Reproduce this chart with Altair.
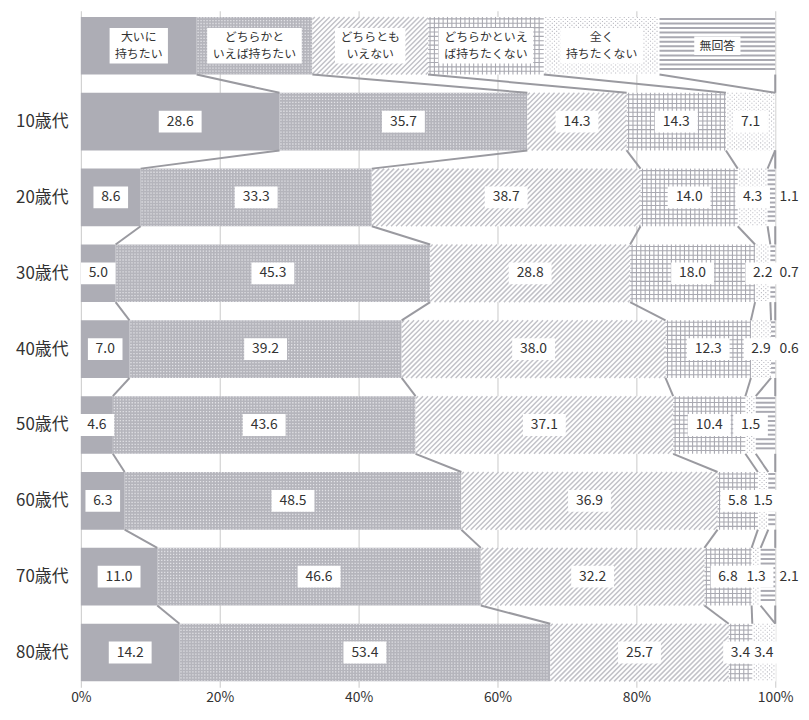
import json
import altair as alt
import pandas as pd

cats = ["大いに持ちたい", "どちらかといえば持ちたい", "どちらともいえない",
        "どちらかといえば持ちたくない", "全く持ちたくない", "無回答"]
header_text = ["大いに\n持ちたい", "どちらかと\nいえば持ちたい", "どちらとも\nいえない",
               "どちらかといえ\nば持ちたくない", "全く\n持ちたくない", "無回答"]
ages = ["10歳代", "20歳代", "30歳代", "40歳代", "50歳代", "60歳代", "70歳代", "80歳代"]

v_very = [28.6, 8.6, 5.0, 7.0, 4.6, 6.3, 11.0, 14.2]
v_rather = [35.7, 33.3, 45.3, 39.2, 43.6, 48.5, 46.6, 53.4]
v_neither = [14.3, 38.7, 28.8, 38.0, 37.1, 36.9, 32.2, 25.7]
v_rather_not = [14.3, 14.0, 18.0, 12.3, 10.4, 5.8, 6.8, 3.4]
v_not = [7.1, 4.3, 2.2, 2.9, 1.5, 1.5, 1.3, 3.4]
v_na = [0.0, 1.1, 0.7, 0.6, 2.8, 1.0, 2.1, 0.0]
na_labelled = [False, True, True, True, False, False, True, False]

# base fills (patterns are drawn on top)
colors = ["#adadb5", "#b5b5bc", "#ffffff", "#ffffff", "#ffffff", "#ffffff"]
LINE = "#a9a9b1"

FONT = "Noto Sans CJK JP"
W, H = 700, 676
YDOM = [-0.46, 8.38]
STEP = H / (YDOM[1] - YDOM[0])   # px per row
PXPCT = W / 100.0                # px per percent
HALF = 0.38                      # half bar thickness (rows)

series = [v_very, v_rather, v_neither, v_rather_not, v_not, v_na]

# segments (row 0 = header with equal parts)
seg_rows, bounds = [], {}
for r in range(9):
    vals = [100 / 6] * 6 if r == 0 else [s[r - 1] for s in series]
    cum = 0.0
    b = [0.0]
    for k, v in enumerate(vals):
        seg_rows.append(dict(cat=cats[k], k=k, r=r, x0=cum, x1=min(cum + v, 100.0),
                             y0=r - HALF, y1=r + HALF))
        cum += v
        b.append(min(cum, 100.0))
    bounds[r] = b
segs = pd.DataFrame(seg_rows)

# texture lines derived from the segments (pixel spacing -> data units)
grid_l, diag_l, hstripe_l, dense_l, sparse_l = [], [], [], [], []
for s in seg_rows:
    X0, X1 = s["x0"] * PXPCT, s["x1"] * PXPCT
    T, B = s["y0"] * STEP, s["y1"] * STEP
    if X1 - X0 < 0.5:
        continue

    def add(lst, xa, xb, ya, yb):
        lst.append(dict(x0=xa / PXPCT, x1=xb / PXPCT, y0=ya / STEP, y1=yb / STEP))

    k = s["k"]
    if k == 1:   # dense dots: white holes on grey
        x = X0 + 1.5
        while x < X1 - 0.5:
            add(dense_l, x, x, T, B)
            x += 3.0
    elif k == 2:  # diagonal stripes
        sp = 5.0
        c = X0 + T + sp / 2
        while c < X1 + B:
            xa = max(X0, c - B)
            xb = min(X1, c - T)
            if xb > xa:
                add(diag_l, xa, xb, c - xa, c - xb)
            c += sp
    elif k == 3:  # grid
        x = X0 + 2.0
        while x < X1 - 0.5:
            add(grid_l, x, x, T, B)
            x += 4.4
        y = T + 2.0
        while y < B - 0.5:
            add(grid_l, X0, X1, y, y)
            y += 4.4
    elif k == 4:  # sparse dots
        x = X0 + 2.0
        i = 0
        while x < X1 - 0.5:
            add(sparse_l, x, x, T + (2.0 if i % 2 else 0.0), B)
            x += 2.2
            i += 1
    elif k == 5:  # horizontal stripes
        y = T + 2.0
        while y < B - 1:
            add(hstripe_l, X0, X1, y, y)
            y += 4.6

# connector lines
con_rows = []
for r in range(8):
    for k in range(1, 7):
        con_rows.append(dict(x0=bounds[r][k], x1=bounds[r + 1][k],
                             y0=r + HALF, y1=r + 1 - HALF))
cons = pd.DataFrame(con_rows)

# value labels
lab_rows = []
for r in range(1, 9):
    for k in range(6):
        v = series[k][r - 1]
        if v <= 0:
            continue
        if k == 5 and not na_labelled[r - 1]:
            continue
        txt = f"{v:.1f}"
        cx = 102.0 if k == 5 else (bounds[r][k] + bounds[r][k + 1]) / 2
        hw = (len(txt) * 8.3 + 10) / 2 / PXPCT
        lab_rows.append(dict(txt=txt, x0=cx, xa=cx - hw, xb=cx + hw,
                             yc=r, ya=r - 11 / STEP, yb=r + 11 / STEP,
                             outside=(k == 5)))
labs = pd.DataFrame(lab_rows)
boxes = labs[~labs["outside"]]

# header labels (one text per line)
hdr_box_rows, hdr_line_rows = [], []
LH = 17.5
for k, t in enumerate(header_text):
    lines = t.split("\n")
    cx = 100 / 6 * (k + 0.5)
    hw = (max(len(l) for l in lines) * 12.2 + 10) / 2 / PXPCT
    hh = (len(lines) * LH + 1) / 2 / STEP
    hdr_box_rows.append(dict(xa=cx - hw, xb=cx + hw, ya=-hh, yb=hh))
    n = len(lines)
    for i, l in enumerate(lines):
        off = (i - (n - 1) / 2) * LH / STEP
        hdr_line_rows.append(dict(txt=l, x0=cx, yc=off))
hdr_boxes_df = pd.DataFrame(hdr_box_rows)
hdr_lines_df = pd.DataFrame(hdr_line_rows)

yscale = alt.Scale(domain=YDOM, reverse=True, nice=False, zero=False)
xscale = alt.Scale(domain=[0, 100], nice=False, zero=False)
yaxis = alt.Axis(values=list(range(1, 9)),
                 labelExpr=f"{json.dumps(ages, ensure_ascii=False)}[datum.value - 1]",
                 ticks=False, domain=False, grid=False, title=None,
                 labelFontSize=17, labelPadding=13, labelColor="#333333", labelFont=FONT)
xaxis = alt.Axis(values=[0, 20, 40, 60, 80, 100], labelExpr="datum.value + '%'",
                 grid=True, gridColor="#d2d2d2", gridWidth=1.2, domain=False,
                 tickSize=6, tickColor="#d2d2d2", tickWidth=1.2, labelFontSize=14,
                 labelPadding=3, labelColor="#333333", labelFont=FONT, title=None,
                 labelFlush=False)


def X(f):
    return alt.X(f + ":Q", scale=xscale, axis=xaxis)


def Y(f):
    return alt.Y(f + ":Q", scale=yscale, axis=yaxis)


def rules(rows, **kw):
    return alt.Chart(pd.DataFrame(rows)).mark_rule(**kw).encode(
        x=X("x0"), x2="x1", y=Y("y0"), y2="y1")


bars = alt.Chart(segs).mark_rect(stroke=None).encode(
    x=X("x0"), x2="x1", y=Y("y0"), y2="y1",
    color=alt.Color("cat:N", scale=alt.Scale(domain=cats, range=colors), legend=None),
)

tex_dense = rules(dense_l, color="#e2e2e6", strokeWidth=1.3, strokeDash=[1.3, 1.7])
tex_diag = rules(diag_l, color="#c2c2c8", strokeWidth=1.5)
tex_grid = rules(grid_l, color=LINE, strokeWidth=1.1)
tex_sparse = rules(sparse_l, color="#bcbcc3", strokeWidth=1.1, strokeDash=[1.1, 2.9])
tex_h = rules(hstripe_l, color=LINE, strokeWidth=2.0)

lines = alt.Chart(cons).mark_rule(color="#9a9aa0", strokeWidth=2).encode(
    x=X("x0"), x2="x1", y=Y("y0"), y2="y1"
)

label_boxes = alt.Chart(boxes).mark_rect(color="white").encode(
    x=X("xa"), x2="xb", y=Y("ya"), y2="yb"
)
label_text = alt.Chart(labs).mark_text(font=FONT, fontSize=14, color="#333333",
                                       align="center", baseline="middle").encode(
    x=X("x0"), y=Y("yc"), text="txt:N"
)

hdr_boxes = alt.Chart(hdr_boxes_df).mark_rect(color="white").encode(
    x=X("xa"), x2="xb", y=Y("ya"), y2="yb"
)
hdr_text = alt.Chart(hdr_lines_df).mark_text(font=FONT, fontSize=12, color="#333333",
                                             align="center", baseline="middle").encode(
    x=X("x0"), y=Y("yc"), text="txt:N"
)

chart = alt.layer(bars, tex_dense, tex_diag, tex_grid, tex_sparse, tex_h, lines,
                  label_boxes, label_text, hdr_boxes, hdr_text).properties(
    width=W, height=H,
    autosize=alt.AutoSizeParams(type="none"),
    padding={"left": 73.5, "top": 0, "right": 26, "bottom": 26},
    background="white",
).configure_view(stroke=None)

chart.save("out.html", embed_options={"renderer": "svg", "actions": False})
